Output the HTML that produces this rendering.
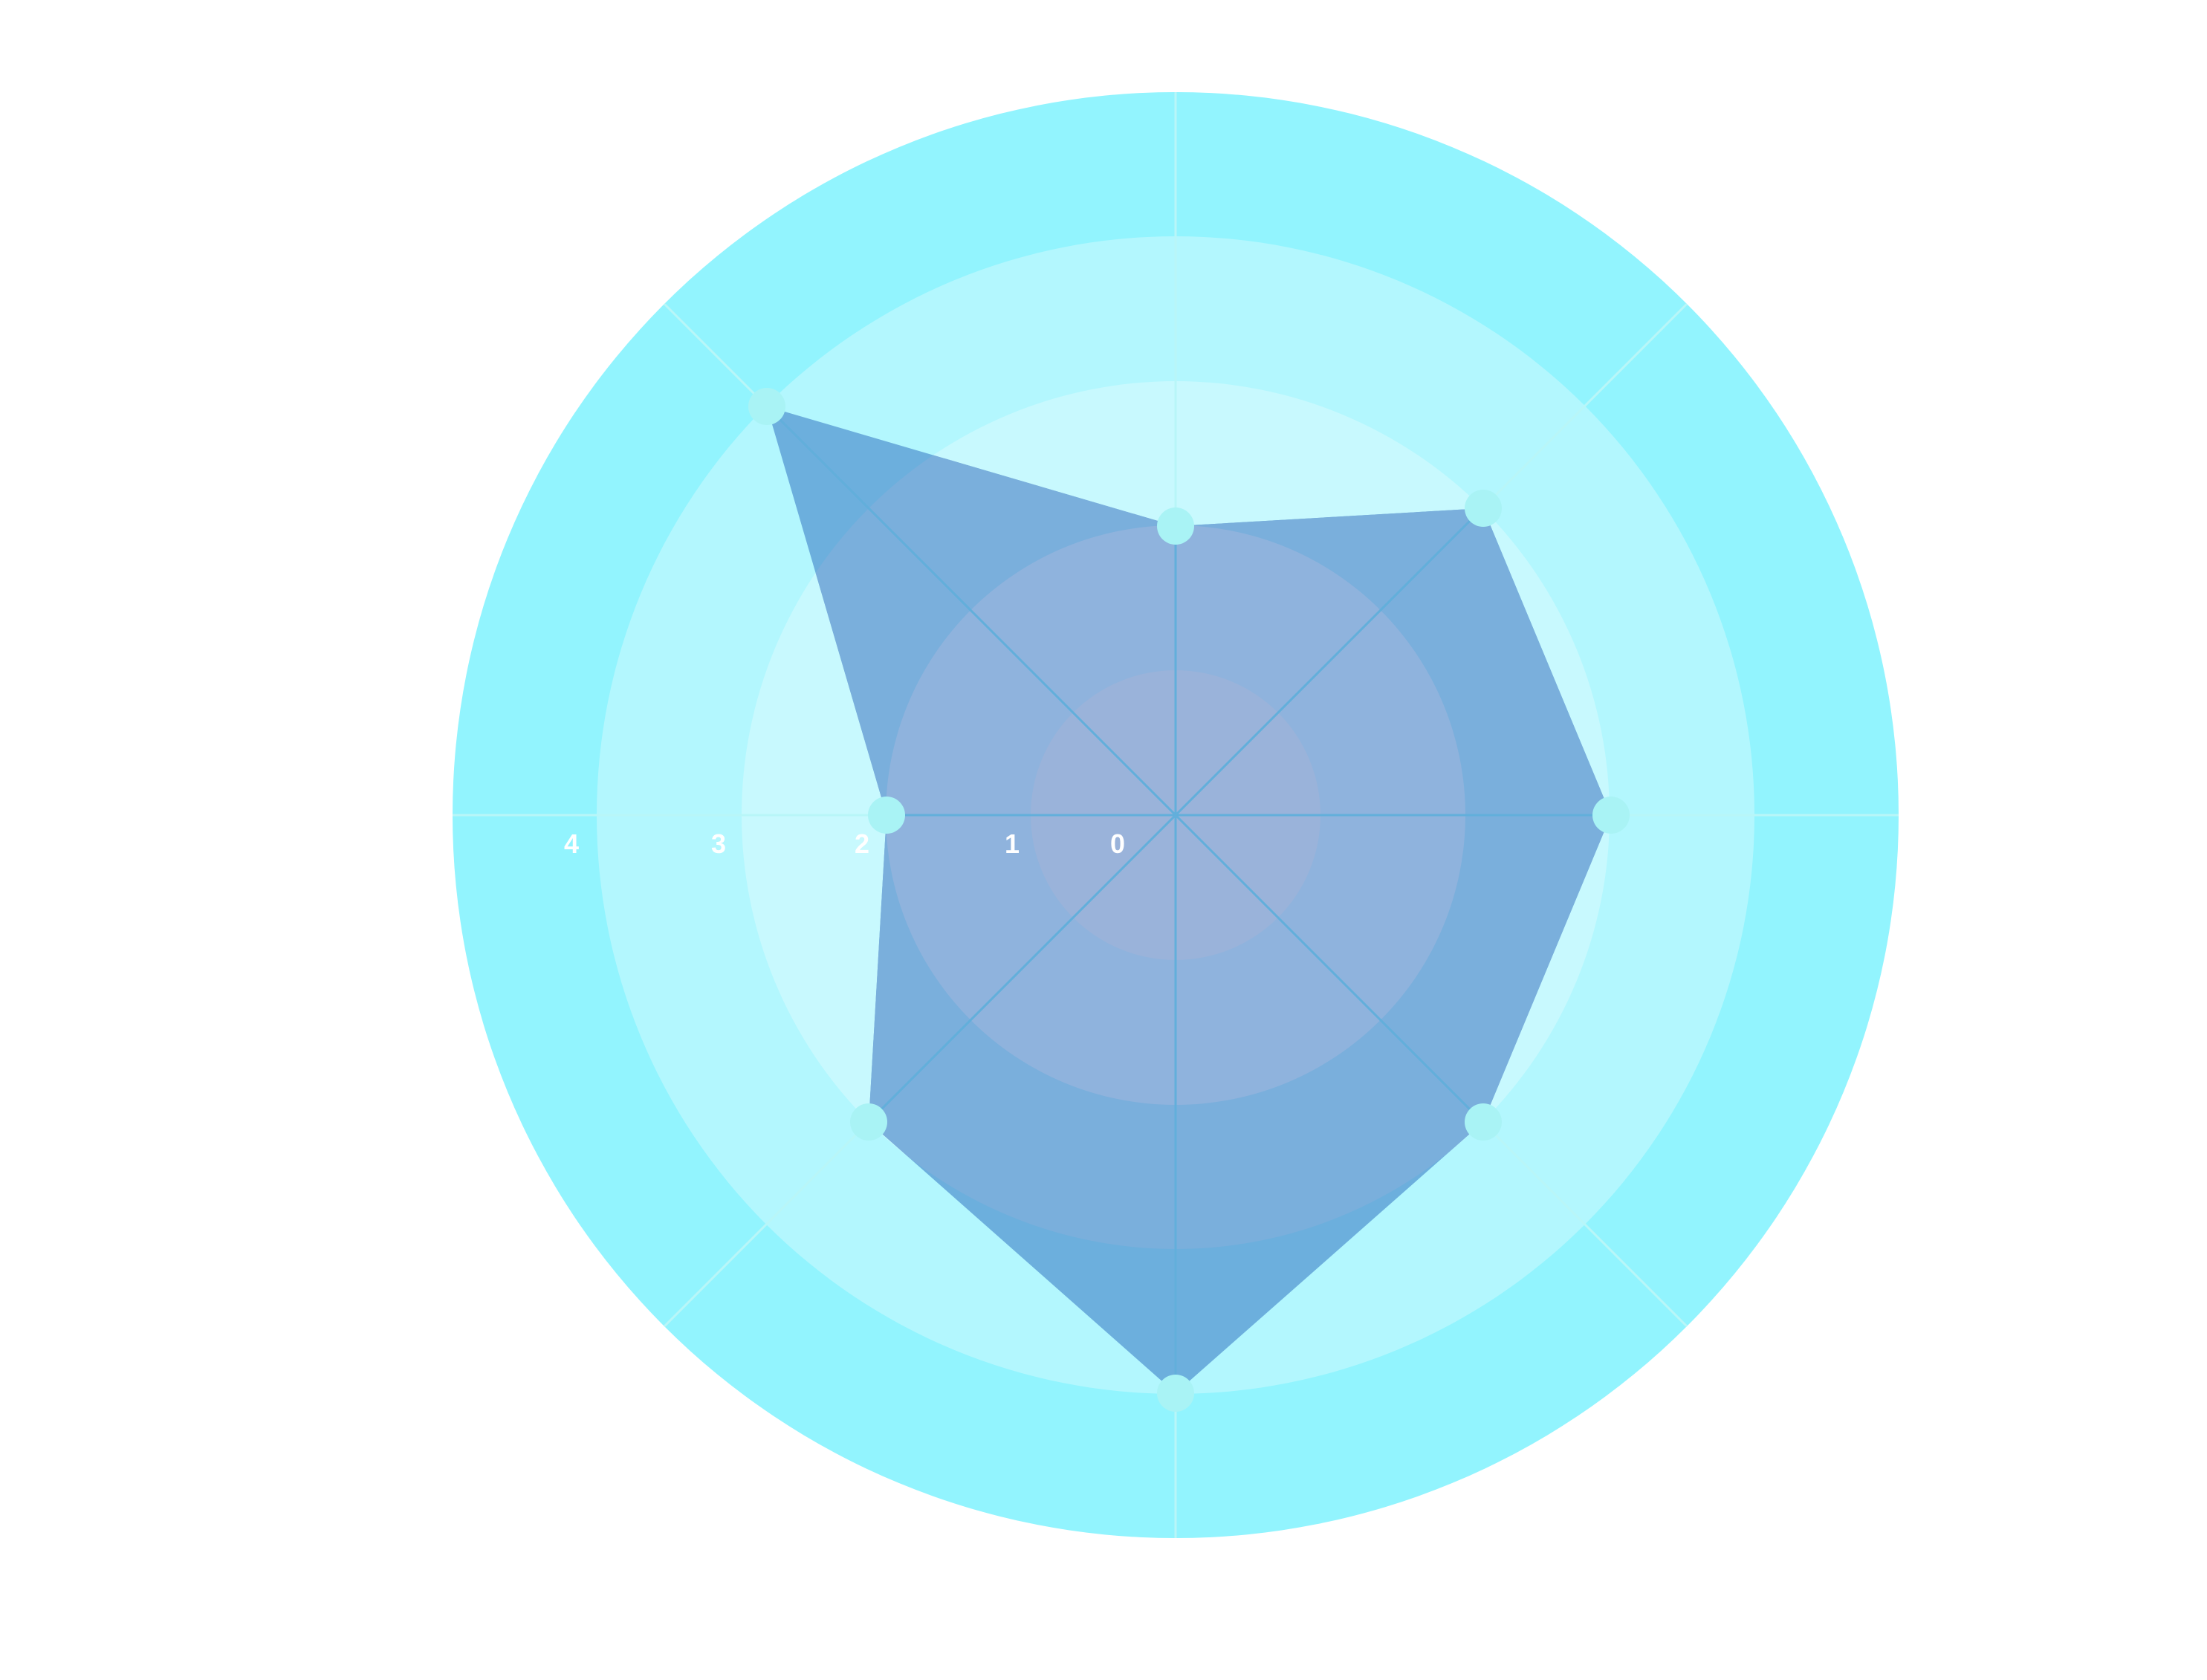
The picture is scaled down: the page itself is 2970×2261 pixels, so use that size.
<!DOCTYPE html>
<html><head><style>html,body{margin:0;padding:0;background:#fff;}svg{display:block}</style></head>
<body>
<svg width="2970" height="2261" viewBox="0 0 2970 2261" xmlns="http://www.w3.org/2000/svg">
<defs>
<clipPath id="poly"><polygon points="1582,708 1996,684 2168,1097 1996,1510 1582,1875 1169,1510 1193,1097 1032,547"/></clipPath>
</defs>
<circle cx="1582" cy="1097" r="973" fill="#92f4fe"/>
<circle cx="1582" cy="1097" r="779" fill="#b3f7fe"/>
<circle cx="1582" cy="1097" r="584" fill="#c8f9fe"/>
<circle cx="1582" cy="1097" r="390" fill="#8fb3dd"/>
<circle cx="1582" cy="1097" r="195" fill="#9ab3da"/>
<g stroke="#b8f6f8" stroke-width="3">
<line x1="609" y1="1097" x2="2555" y2="1097"/>
<line x1="1582" y1="124" x2="1582" y2="2070"/>
<line x1="894" y1="409" x2="2270" y2="1785"/>
<line x1="2270" y1="409" x2="894" y2="1785"/>
</g>
<g clip-path="url(#poly)">
<circle cx="1582" cy="1097" r="973" fill="#6cafdd"/>
<circle cx="1582" cy="1097" r="584" fill="#7aafdc"/>
<circle cx="1582" cy="1097" r="390" fill="#8fb3dd"/>
<circle cx="1582" cy="1097" r="195" fill="#9ab3da"/>
<g stroke="#62afdb" stroke-width="3">
<line x1="609" y1="1097" x2="2555" y2="1097"/>
<line x1="1582" y1="124" x2="1582" y2="2070"/>
<line x1="894" y1="409" x2="2270" y2="1785"/>
<line x1="2270" y1="409" x2="894" y2="1785"/>
</g>
</g>
<g fill="#a9f3f5">
<circle cx="1582" cy="708" r="25"/>
<circle cx="1996" cy="684" r="25"/>
<circle cx="2168" cy="1097" r="25"/>
<circle cx="1996" cy="1510" r="25"/>
<circle cx="1582" cy="1875" r="25"/>
<circle cx="1169" cy="1510" r="25"/>
<circle cx="1193" cy="1097" r="25"/>
<circle cx="1032" cy="547" r="25"/>
</g>
<g font-family="Liberation Sans, sans-serif" font-weight="bold" font-size="36" fill="#fff" text-anchor="middle">
<text x="769" y="1148">4</text>
<text x="967" y="1148">3</text>
<text x="1160" y="1148">2</text>
<text x="1362" y="1148">1</text>
<text x="1504" y="1148">0</text>
</g>
</svg>
</body></html>
